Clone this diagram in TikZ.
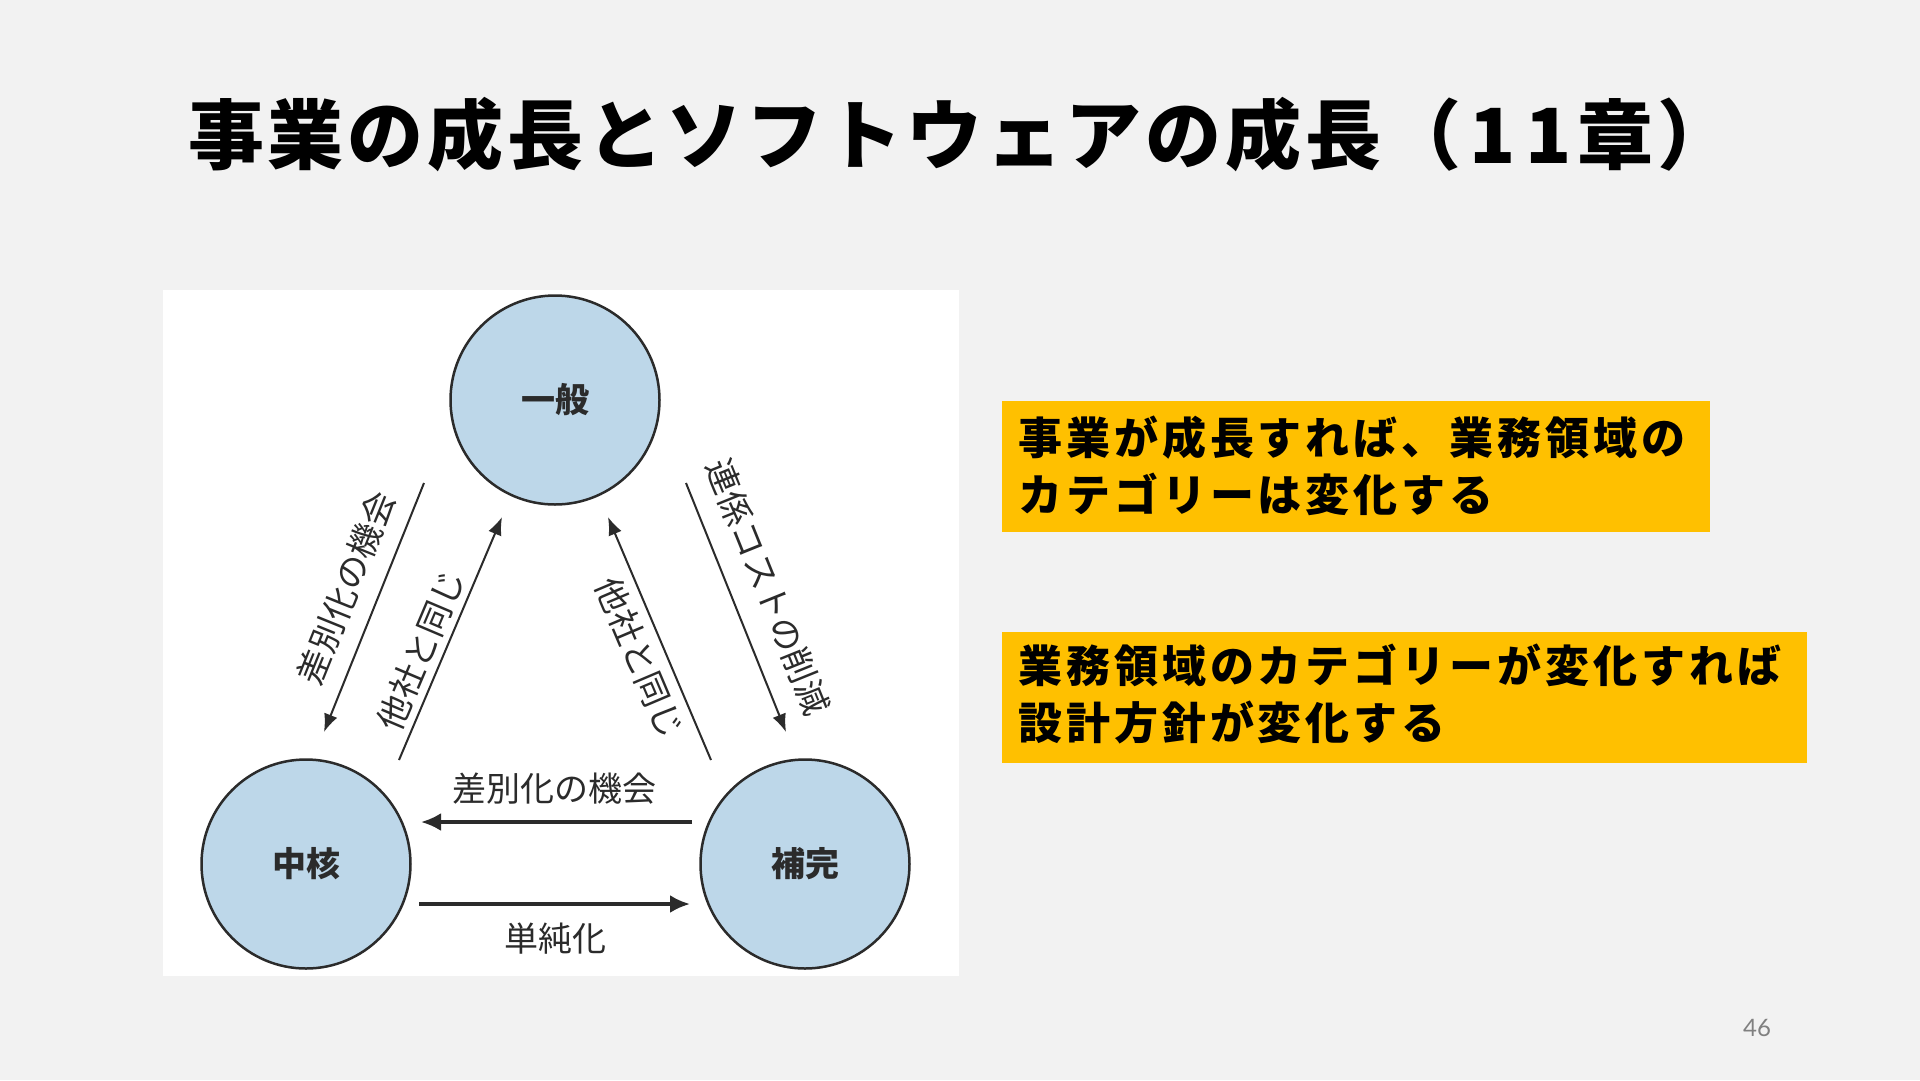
\documentclass[tikz,border=0pt]{standalone}
\usepackage{fontspec}
\usetikzlibrary{arrows.meta}
\newfontfamily\jp{Noto Sans CJK JP}
\newfontfamily\jptitle[LetterSpace=5]{Noto Sans CJK JP}
\newfontfamily\jpbox[LetterSpace=9]{Noto Sans CJK JP}
\newfontfamily\numfont{Lato}
\definecolor{bg}{HTML}{F2F2F2}
\definecolor{circfill}{HTML}{BDD7E9}
\definecolor{ybox}{HTML}{FFC000}
\definecolor{ink}{HTML}{2B2B2B}
\definecolor{pgnum}{HTML}{808080}
\tikzset{
  catcircle/.style={circle, draw=ink, line width=2.5pt, fill=circfill, minimum size=209pt, inner sep=0pt,
    font=\jp\bfseries\fontsize{34}{40}\selectfont, text=ink},
  diagarrow/.style={draw=ink, line width=2pt, -{Latex[length=18pt,width=14pt]}},
  horarrow/.style={draw=ink, line width=3.5pt, -{Latex[length=20pt,width=18pt]}},
  arrowlabel/.style={font=\jp\fontsize{34}{40}\selectfont, text=ink, inner sep=0pt},
  notebox/.style={rectangle, fill=ybox, inner sep=0pt},
  notetext/.style={font=\jpbox\bfseries\fontsize{44}{57}\selectfont, align=left, anchor=west, inner sep=0pt, text=black}
}
\begin{document}
\begin{tikzpicture}[x=1pt,y=-1pt]
\useasboundingbox (0,0) rectangle (1920,1080);
\fill[bg] (0,0) rectangle (1920,1080);

% title
\node[anchor=west, inner sep=0pt, font=\jptitle\bfseries\fontsize{76}{80}\selectfont] (title) at (188,135) {事業の成長とソフトウェアの成長（\hspace{8pt}1\hspace{10pt}1\hspace{6pt}章）};

% white panel
\node[rectangle, fill=white, minimum width=796pt, minimum height=686pt, inner sep=0pt] (panel) at (561,633) {};

% circles
\node[catcircle] (ippan) at (555,400) {一般};
\node[catcircle] (kaku) at (306,864) {中核};
\node[catcircle] (hokan) at (805,864) {補完};

% connector endpoints
\coordinate (d1s) at (424,483); \coordinate (d1e) at (324,732);
\coordinate (d2s) at (399,760); \coordinate (d2e) at (502,517);
\coordinate (d3s) at (711,760); \coordinate (d3e) at (608,517);
\coordinate (d4s) at (686,483); \coordinate (d4e) at (786,732);
\coordinate (h1s) at (692,822); \coordinate (h1e) at (421,822);
\coordinate (h2s) at (419,904); \coordinate (h2e) at (690,904);

\draw[diagarrow] (d1s) -- (d1e);
\draw[diagarrow] (d2s) -- (d2e);
\draw[diagarrow] (d3s) -- (d3e);
\draw[diagarrow] (d4s) -- (d4e);
\draw[horarrow] (h1s) -- (h1e);
\draw[horarrow] (h2s) -- (h2e);

% labels
\node[arrowlabel, rotate=68] (l1) at (346,588) {差別化の機会};
\node[arrowlabel, rotate=67] (l2) at (421,650) {他社と同じ};
\node[arrowlabel, rotate=-67] (l3) at (640,658) {他社と同じ};
\node[arrowlabel, rotate=-68] (l4) at (768,587) {連係コストの削減};
\node[arrowlabel] (l5) at (554,789) {差別化の機会};
\node[arrowlabel] (l6) at (555,939) {単純化};

% notes
\node[notebox, minimum width=708pt, minimum height=131pt] (box1) at (1356,466.5) {};
\node[notetext] (t1) at (1018,466) {事業が成長すれば、業務領域の\\カテゴリーは変化する};
\node[notebox, minimum width=805pt, minimum height=131pt] (box2) at (1404.5,697.5) {};
\node[notetext] (t2) at (1018,694) {業務領域のカテゴリーが変化すれば\\設計方針が変化する};

% page number
\node[font=\numfont\fontsize{24}{28}\selectfont, text=pgnum, inner sep=0pt] (pg) at (1757,1028) {46};
\end{tikzpicture}
\end{document}
